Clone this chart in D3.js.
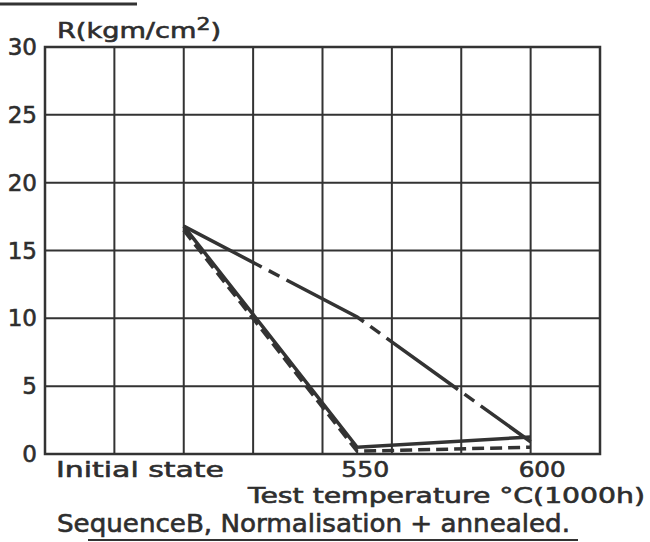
<!DOCTYPE html>
<html>
<head>
<meta charset="utf-8">
<script src="https://cdn.jsdelivr.net/npm/d3@7"></script>
<style>
  body { margin: 0; background: #fff; }
  svg text { font-family: "DejaVu Sans", sans-serif; fill: #2e2e2e; stroke: #2e2e2e; stroke-width: 0.6; }
</style>
</head>
<body>
<svg id="chart" width="650" height="542"></svg>
<script>
// categories along the x axis
var categories = ["Initial state", "550", "600"];
// R (kgm/cm2)
var seriesLongDash = [16.8, 10.1, 0.9];
var seriesSolid = [16.8, 0.5, 1.25];
var seriesDashed = [16.5, 0.2, 0.5];
var yTicks = [0, 5, 10, 15, 20, 25, 30];

var svg = d3.select("#chart");
var ink = "#333";

var plotLeft = 45, plotRight = 600, plotTop = 47, plotBottom = 454;

// grid is 8 columns wide
var xGrid = d3.scaleLinear().domain([0, 8]).range([plotLeft, plotRight]);
var y = d3.scaleLinear().domain([0, 30]).range([plotBottom, plotTop]);
var x = d3.scalePoint().domain(categories).range([xGrid(2), xGrid(7)]);

// grid
svg.append("g").selectAll("line").data(d3.range(1, 8)).enter().append("line")
    .attr("x1", d => xGrid(d)).attr("x2", d => xGrid(d))
    .attr("y1", plotTop).attr("y2", plotBottom)
    .attr("stroke", ink).attr("stroke-width", 2);

svg.append("g").selectAll("line").data(yTicks.slice(1, -1)).enter().append("line")
    .attr("x1", plotLeft).attr("x2", plotRight)
    .attr("y1", d => y(d)).attr("y2", d => y(d))
    .attr("stroke", ink).attr("stroke-width", 2);

svg.append("rect")
    .attr("x", plotLeft).attr("y", plotTop)
    .attr("width", plotRight - plotLeft).attr("height", plotBottom - plotTop)
    .attr("fill", "none").attr("stroke", ink).attr("stroke-width", 2.5);

// y tick labels
svg.append("g").selectAll("text").data(yTicks).enter().append("text")
    .attr("x", 37).attr("y", d => y(d) + 8)
    .attr("text-anchor", "end")
    .attr("font-size", 23)
    .text(d => d);

// y title
var title = svg.append("text").attr("x", 57).attr("y", 38).attr("font-size", 21)
    .attr("textLength", 164).attr("lengthAdjust", "spacingAndGlyphs");
title.append("tspan").text("R(kgm/cm");
title.append("tspan").attr("dy", -8).attr("font-size", 17).text("2");
title.append("tspan").attr("dy", 8).text(")");

// x tick labels and captions
function label(text, x0, width, baseline, size)
{
    svg.append("text")
        .attr("x", x0).attr("y", baseline)
        .attr("font-size", size)
        .attr("textLength", width)
        .attr("lengthAdjust", "spacingAndGlyphs")
        .text(text);
}

label(categories[0], 56, 168, 477, 22);
label(categories[1], x("550") - 16, 48, 477, 22);
label(categories[2], x("600") - 12, 47, 477, 22);

label("Test temperature \u00b0C(1000h)", 248, 397, 503, 21);
label("SequenceB, Normalisation + annealed.", 57, 513, 532, 24);

// rules above and below
svg.append("line").attr("x1", 0).attr("x2", 137).attr("y1", 4).attr("y2", 4)
    .attr("stroke", ink).attr("stroke-width", 3);
svg.append("line").attr("x1", 88).attr("x2", 578).attr("y1", 540).attr("y2", 540)
    .attr("stroke", ink).attr("stroke-width", 2);

// data lines
var line = d3.line()
    .x((d, i) => x(categories[i]))
    .y(d => y(d));

function drawSeries(values, dash)
{
    svg.append("path")
        .datum(values)
        .attr("d", line)
        .attr("fill", "none")
        .attr("stroke", ink)
        .attr("stroke-width", 3.5)
        .attr("stroke-linejoin", "miter")
        .attr("stroke-dasharray", dash);
}

drawSeries(seriesLongDash, "88,8,12,8");
drawSeries(seriesSolid, null);
drawSeries(seriesDashed, "12,6");
</script>
</body>
</html>
